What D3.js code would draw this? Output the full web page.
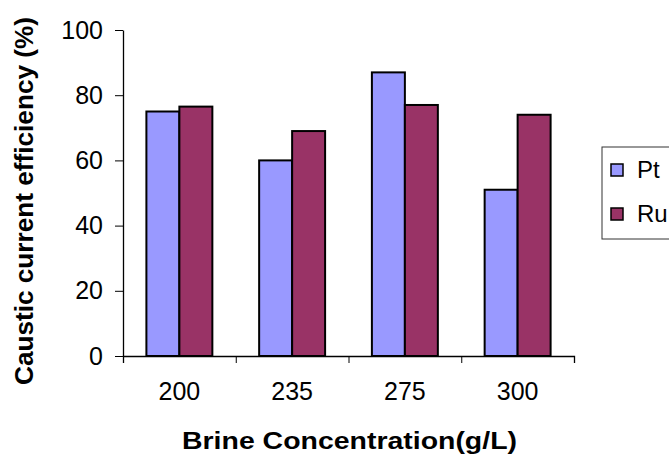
<!DOCTYPE html>
<html>
<head>
<meta charset="utf-8">
<script src="https://cdn.jsdelivr.net/npm/d3@7"></script>
<style>
  body { margin: 0; background: #fff; }
  text { font-family: "Liberation Sans", Arial, sans-serif; }
</style>
</head>
<body>
<div id="chart"></div>
<script>
// data
const concentrations = ["200", "235", "275", "300"];
const seriesNames = ["Pt", "Ru"];
const ptValues = [75, 60, 87, 51];
const ruValues = [76.5, 69, 77, 74];
const yTicks = [0, 20, 40, 60, 80, 100];

const colors = { Pt: "#9999ff", Ru: "#993366" };

const W = 669, H = 454;
const margin = { top: 30, right: 95, bottom: 98, left: 123 };
const width = 574 - margin.left;
const height = 356 - margin.top;

const svg = d3.select("#chart")
    .append("svg")
    .attr("width", W)
    .attr("height", H);

const g = svg.append("g")
    .attr("transform", `translate(${margin.left},${margin.top})`);

// SCALES
const x = d3.scaleBand()
    .domain(concentrations)
    .range([0, width])
    .paddingInner(0.415)
    .paddingOuter(0.2075);

const xSub = d3.scaleBand()
    .domain(seriesNames)
    .range([0, x.bandwidth()]);

const y = d3.scaleLinear()
    .domain([0, 100])
    .range([height, 0]);

// boundaries between categories, for the tick marks
const xEdge = d3.scaleLinear()
    .domain([0, concentrations.length])
    .range([0, width]);

const rows = concentrations.map((c, i) => ({ c: c, Pt: ptValues[i], Ru: ruValues[i] }));

// BARS
const groups = g.selectAll("g.grp")
    .data(rows)
    .enter()
    .append("g")
    .attr("class", "grp")
    .attr("transform", d => `translate(${x(d.c)},0)`);

groups.selectAll("rect")
    .data(d => seriesNames.map(s => ({ key: s, value: d[s] })))
    .enter()
    .append("rect")
    .attr("x", d => xSub(d.key))
    .attr("y", d => y(d.value))
    .attr("width", xSub.bandwidth())
    .attr("height", d => y(0) - y(d.value))
    .attr("fill", d => colors[d.key])
    .attr("stroke", "#000")
    .attr("stroke-width", 2);

// X AXIS (tick marks at category edges)
const xAxisG = g.append("g")
    .attr("transform", `translate(0,${height})`)
    .call(d3.axisBottom(xEdge).tickValues(d3.range(concentrations.length + 1)).tickSize(7).tickFormat(""));
xAxisG.select(".domain").attr("stroke", "#000").attr("stroke-width", 1.3);

// category labels
g.append("g")
    .attr("transform", `translate(0,${height})`)
    .call(d3.axisBottom(x).tickSize(0).tickPadding(26))
    .call(a => a.select(".domain").remove())
    .selectAll("text")
    .attr("font-size", "25px")
    .attr("fill", "#000");

// Y AXIS
const yAxisG = g.append("g")
    .call(d3.axisLeft(y).tickValues(yTicks).tickSize(8).tickPadding(12).tickSizeOuter(0));
yAxisG.select(".domain").attr("stroke", "#000").attr("stroke-width", 1.3);
yAxisG.selectAll("text")
    .attr("font-size", "25px")
    .attr("fill", "#000");

// AXIS TITLES
svg.append("text")
    .attr("x", 182)
    .attr("y", 449)
    .attr("font-size", "23px")
    .attr("font-weight", "bold")
    .attr("textLength", 335)
    .attr("lengthAdjust", "spacingAndGlyphs")
    .text("Brine Concentration(g/L)");

svg.append("text")
    .attr("transform", "translate(33,385) rotate(-90)")
    .attr("font-size", "26px")
    .attr("font-weight", "bold")
    .attr("textLength", 368)
    .attr("lengthAdjust", "spacingAndGlyphs")
    .text("Caustic current efficiency (%)");

// LEGEND
const legend = svg.append("g")
    .attr("transform", "translate(602,147)");

legend.append("rect")
    .attr("width", 80)
    .attr("height", 92)
    .attr("fill", "#fff")
    .attr("stroke", "#333")
    .attr("stroke-width", 1);

const items = legend.selectAll("g.item")
    .data(seriesNames)
    .enter()
    .append("g")
    .attr("class", "item")
    .attr("transform", (d, i) => `translate(9,${17 + i * 44})`);

items.append("rect")
    .attr("width", 12)
    .attr("height", 12)
    .attr("fill", d => colors[d])
    .attr("stroke", "#000")
    .attr("stroke-width", 1.5);

items.append("text")
    .attr("x", 26)
    .attr("y", 14)
    .attr("font-size", "24px")
    .attr("fill", "#000")
    .text(d => d);
</script>
</body>
</html>
